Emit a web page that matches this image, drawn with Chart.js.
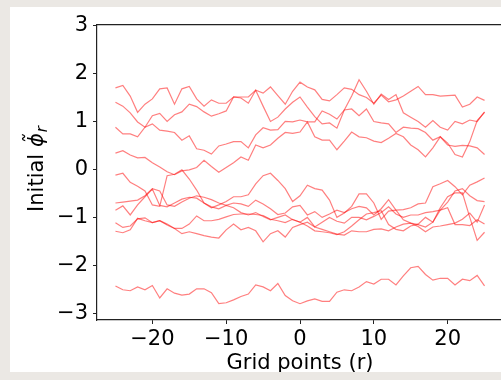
<!DOCTYPE html>
<html lang="en">
<head>
    <meta charset="UTF-8">
    <title>Initial phi</title>
    <style>
        html, body { margin: 0; padding: 0; width: 501px; height: 380px; overflow: hidden; background: #ebe8e4; }
        #panel { position: absolute; left: 10px; top: 7px; width: 500px; height: 365px; background: #fff; }
        canvas { display: block; }
    </style>
</head>
<body>
    <div id="panel">
        <canvas id="phiChart" width="500" height="365"></canvas>
    </div>

    <script src="https://cdn.jsdelivr.net/npm/chart.js"></script>
    <script>
        // grid points r = -25 .. 25
        const gridPoints = [];
        for (let r = -25; r <= 25; r++) gridPoints.push(r);

        const xTicks = [-20, -10, 0, 10, 20];
        const yTicks = [-3, -2, -1, 0, 1, 2, 3];

        // one array per realisation
        const run1 = [1.70, 1.75, 1.53, 1.19, 1.36, 1.47, 1.68, 1.70, 1.36, 1.68, 1.73, 1.47, 1.32, 1.45, 1.38, 1.38, 1.51, 1.51, 1.51, 1.65, 1.59, 1.72, 1.54, 1.36, 1.63, 1.82,
                      1.72, 1.66, 1.46, 1.43, 1.56, 1.70, 1.67, 1.56, 1.50, 1.38, 1.55, 1.41, 1.45, 1.53, 1.63, 1.73, 1.56, 1.56, 1.53, 1.54, 1.55, 1.30, 1.36, 1.51, 1.44];
        const run2 = [1.40, 1.32, 1.18, 0.99, 0.88, 1.12, 1.17, 1.00, 1.14, 1.20, 1.36, 1.31, 1.20, 1.11, 1.16, 1.22, 1.51, 1.49, 1.38, 1.65, 1.32, 1.00, 1.09, 1.26, 1.40, 1.51,
                      1.30, 1.10, 0.95, 0.97, 0.86, 1.24, 1.53, 1.87, 1.63, 1.36, 1.57, 1.46, 1.56, 1.18, 1.09, 1.00, 0.88, 1.02, 0.88, 0.82, 1.00, 0.95, 1.03, 1.00, 1.20];
        const run3 = [0.88, 0.74, 0.74, 0.68, 0.88, 0.95, 0.82, 0.80, 0.77, 0.61, 0.70, 0.43, 0.40, 0.32, 0.49, 0.53, 0.58, 0.58, 0.45, 0.72, 0.87, 0.82, 0.83, 1.00, 0.99, 1.03,
                      0.99, 0.99, 1.22, 1.15, 1.05, 1.24, 1.26, 1.12, 1.26, 1.00, 0.97, 0.95, 0.77, 0.88, 0.86, 0.85, 0.77, 0.61, 0.68, 0.55, 0.31, 0.26, 0.58, 1.02, 1.19];
        const run4 = [0.34, 0.39, 0.30, 0.24, 0.25, 0.14, 0.05, -0.05, -0.11, -0.03, -0.01, 0.04, 0.19, 0.06, -0.06, 0.04, 0.14, 0.26, 0.19, 0.51, 0.45, 0.51, 0.65, 0.77, 0.75, 0.78,
                      0.99, 0.68, 0.61, 0.61, 0.41, 0.59, 0.78, 0.68, 0.66, 0.59, 0.56, 0.65, 0.75, 0.68, 0.51, 0.41, 0.26, 0.45, 0.68, 0.51, 0.48, 0.50, 0.49, 0.45, 0.31];
        const run5 = [-0.12, -0.08, -0.27, -0.35, -0.45, -0.74, -0.77, -0.13, -0.10, -0.01, -0.20, -0.43, -0.70, -0.80, -0.74, -0.67, -0.57, -0.57, -0.53, -0.30, -0.13, -0.08, -0.23, -0.40, -0.67,
                      -0.55, -0.33, -0.40, -0.43, -0.64, -1.00, -0.91, -0.77, -0.51, -0.51, -0.70, -1.04, -0.87, -0.85, -0.84, -0.80, -0.72, -0.70, -0.36, -0.30, -0.23, -0.36, -0.53, -0.33, -0.26, -0.18];
        const run6 = [-0.70, -0.68, -0.66, -0.64, -0.55, -0.40, -0.45, -0.74, -0.77, -0.68, -0.60, -0.55, -0.58, -0.63, -0.70, -0.75, -0.70, -0.72, -0.77, -0.64, -0.72, -0.82, -0.94, -0.91, -0.78,
                      -0.75, -0.95, -0.88, -1.00, -0.93, -0.85, -0.90, -0.82, -0.77, -0.80, -0.95, -0.82, -0.63, -0.85, -1.05, -1.12, -1.15, -1.20, -1.10, -0.85, -0.68, -0.45, -0.40, -0.55, -0.65, -0.67];
        const run7 = [-0.85, -0.76, -0.95, -0.74, -0.57, -0.41, -0.75, -0.78, -0.70, -0.62, -0.58, -0.60, -0.70, -0.78, -0.82, -0.75, -0.80, -0.90, -0.95, -0.90, -0.98, -1.05, -1.00, -0.95, -1.05,
                      -1.10, -1.00, -1.20, -1.10, -1.00, -1.08, -1.12, -1.00, -1.00, -1.05, -0.98, -0.90, -0.78, -0.93, -1.00, -0.95, -0.95, -0.90, -0.88, -0.85, -0.80, -1.15, -1.15, -1.17, -1.05, -1.14];
        const run8 = [-1.11, -1.21, -1.18, -1.03, -1.01, -1.11, -1.07, -1.14, -1.23, -1.23, -1.14, -0.97, -1.07, -1.07, -1.04, -0.99, -0.94, -0.93, -0.93, -0.94, -0.96, -1.04, -1.07, -1.11, -1.04,
                      -1.10, -1.18, -1.28, -1.30, -1.32, -1.36, -1.30, -1.18, -1.05, -0.93, -0.90, -0.86, -1.15, -1.25, -1.28, -1.18, -1.14, -1.00, -1.10, -0.80, -0.57, -0.49, -0.49, -1.00, -1.48, -1.31];
        const run9 = [-1.29, -1.32, -1.26, -1.02, -1.07, -1.11, -1.07, -1.16, -1.23, -1.34, -1.30, -1.34, -1.38, -1.41, -1.43, -1.26, -1.14, -1.26, -1.21, -1.28, -1.51, -1.34, -1.28, -1.41, -1.21,
                      -1.15, -1.10, -1.20, -1.25, -1.30, -1.35, -1.37, -1.28, -1.30, -1.30, -1.25, -1.24, -1.28, -1.20, -1.14, -1.12, -1.19, -1.30, -1.20, -1.18, -1.15, -1.12, -1.04, -0.91, -1.10, -0.74];
        const run10 = [-2.43, -2.51, -2.53, -2.45, -2.51, -2.42, -2.68, -2.49, -2.58, -2.62, -2.60, -2.49, -2.49, -2.57, -2.80, -2.78, -2.72, -2.65, -2.60, -2.41, -2.45, -2.53, -2.38, -2.63, -2.74,
                       -2.80, -2.74, -2.70, -2.75, -2.75, -2.56, -2.51, -2.53, -2.45, -2.34, -2.39, -2.29, -2.29, -2.41, -2.22, -2.05, -2.02, -2.19, -2.31, -2.27, -2.27, -2.41, -2.29, -2.32, -2.21, -2.43];

        const runs = [run1, run2, run3, run4, run5, run6, run7, run8, run9, run10];

        const datasets = runs.map((vals, k) => ({
            label: 'run ' + (k + 1),
            data: vals.map((v, i) => ({ x: gridPoints[i], y: v })),
            borderColor: 'rgba(255, 0, 0, 0.5)',
            borderWidth: 1.2,
            pointRadius: 0,
            tension: 0,
            fill: false
        }));

        const font = 'DejaVu Sans';
        const axisColor = '#222';

        // matplotlib style: top/right spines and the axis labels
        const frameAndTitles = {
            id: 'frameAndTitles',
            afterDraw(chart) {
                const { ctx, chartArea } = chart;
                ctx.save();
                ctx.strokeStyle = axisColor;
                ctx.lineWidth = 1.2;
                ctx.beginPath();
                ctx.moveTo(chartArea.left, chartArea.top);
                ctx.lineTo(chartArea.right, chartArea.top);
                ctx.lineTo(chartArea.right, chartArea.bottom);
                ctx.stroke();

                ctx.fillStyle = '#000';
                ctx.textBaseline = 'alphabetic';

                // x label
                ctx.textAlign = 'center';
                ctx.font = '21px "' + font + '"';
                ctx.fillText('Grid points (r)', (chartArea.left + chartArea.right) / 2, 362);

                // y label: Initial phi~_r, rotated
                ctx.translate(33, 162);
                ctx.rotate(-Math.PI / 2);
                const main = '21px "' + font + '"';
                const ital = 'italic 21px "' + font + '"';
                const sub = 'italic 15px "' + font + '"';
                ctx.font = main;
                const w1 = ctx.measureText('Initial ').width;
                ctx.font = ital;
                const w2 = ctx.measureText('\u03d5').width;
                ctx.font = sub;
                const w3 = ctx.measureText('r').width;
                let x = -(w1 + w2 + w3 + 1) / 2;
                ctx.textAlign = 'left';
                ctx.font = main;
                ctx.fillText('Initial ', x, 0);
                x += w1;
                ctx.font = ital;
                ctx.fillText('\u03d5\u0303', x, 0);
                x += w2 + 1;
                ctx.font = sub;
                ctx.fillText('r', x, 4);
                ctx.restore();
            }
        };

        new Chart(document.getElementById('phiChart'), {
            type: 'line',
            data: { datasets },
            options: {
                responsive: false,
                animation: false,
                devicePixelRatio: 1,
                layout: { padding: { left: 0, top: 9, right: 7, bottom: 0 } },
                plugins: { legend: { display: false }, tooltip: { enabled: false } },
                scales: {
                    x: {
                        type: 'linear',
                        min: -27.5,
                        max: 27.5,
                        afterBuildTicks: s => { s.ticks = xTicks.map(v => ({ value: v })); },
                        afterFit: s => { s.height = 52; },
                        grid: { drawOnChartArea: false, drawTicks: true, tickLength: 4, color: axisColor },
                        border: { color: axisColor, width: 1.2 },
                        ticks: {
                            color: '#000',
                            padding: 3,
                            maxRotation: 0,
                            font: { family: font, size: 21 },
                            callback: v => (v < 0 ? '\u2212' + Math.abs(v) : String(v))
                        }
                    },
                    y: {
                        min: -3.14,
                        max: 3.02,
                        afterBuildTicks: s => { s.ticks = yTicks.map(v => ({ value: v })); },
                        afterFit: s => { s.width = 87; },
                        grid: { drawOnChartArea: false, drawTicks: true, tickLength: 4, color: axisColor },
                        border: { color: axisColor, width: 1.2 },
                        ticks: {
                            color: '#000',
                            padding: 5,
                            font: { family: font, size: 21 },
                            callback: v => (v < 0 ? '\u2212' + Math.abs(v) : String(v))
                        }
                    }
                }
            },
            plugins: [frameAndTitles]
        });
    </script>
</body>
</html>
